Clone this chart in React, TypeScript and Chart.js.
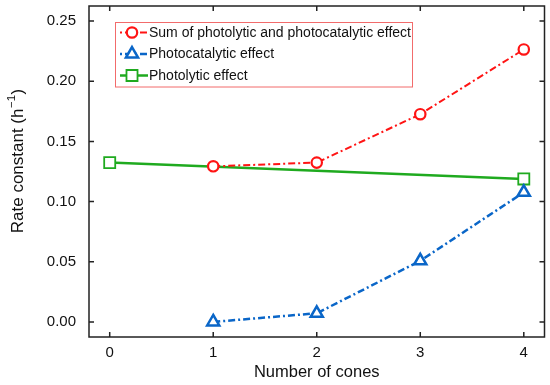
import React, { useEffect, useRef } from "react";
import { Chart, registerables } from "chart.js";

Chart.register(...registerables);

// ---- data ----
const xTickValues = [0, 1, 2, 3, 4];
const yTickValues = [0, 0.05, 0.1, 0.15, 0.2, 0.25];

const sumX = [1, 2, 3, 4];
const sumY = [0.1293, 0.1324, 0.1726, 0.2264];

const photocatalyticX = [1, 2, 3, 4];
const photocatalyticY = [0.0, 0.0072, 0.0508, 0.1077];

const photolyticX = [0, 4];
const photolyticY = [0.1324, 0.1188];

const seriesLabels = [
  "Sum of photolytic and photocatalytic effect",
  "Photocatalytic effect",
  "Photolytic effect",
];

const xTitle = "Number of cones";
const yTitleMain = "Rate constant (h";
const yTitleSup = "\u22121";
const yTitleEnd = ")";

const FONT = "'Liberation Sans', Arial, Helvetica, sans-serif";

const toPoints = (xs: number[], ys: number[]) => xs.map((x, i) => ({ x, y: ys[i] }));

function drawMarker(ctx: CanvasRenderingContext2D, style: string, x: number, y: number, r: number) {
  ctx.beginPath();
  if (style === "circle") {
    ctx.arc(x, y, r, 0, Math.PI * 2);
  } else if (style === "triangle") {
    let rad = 0;
    ctx.moveTo(x + Math.sin(rad) * r, y - Math.cos(rad) * r);
    rad += (2 * Math.PI) / 3;
    ctx.lineTo(x + Math.sin(rad) * r, y - Math.cos(rad) * r);
    rad += (2 * Math.PI) / 3;
    ctx.lineTo(x + Math.sin(rad) * r, y - Math.cos(rad) * r);
    ctx.closePath();
  } else {
    const s = Math.SQRT1_2 * r;
    ctx.rect(x - s, y - s, 2 * s, 2 * s);
  }
  ctx.fill();
  ctx.stroke();
}

const framePlugin = {
  id: "frameTicks",
  afterDatasetsDraw(chart: any) {
    const { ctx, chartArea: a, scales } = chart;
    ctx.save();
    ctx.strokeStyle = "#222";
    ctx.lineWidth = 1.5;
    ctx.strokeRect(a.left, a.top, a.right - a.left, a.bottom - a.top);
    const L = 5;
    ctx.beginPath();
    for (const v of xTickValues) {
      const px = scales.x.getPixelForValue(v);
      ctx.moveTo(px, a.bottom);
      ctx.lineTo(px, a.bottom - L);
      ctx.moveTo(px, a.top);
      ctx.lineTo(px, a.top + L);
    }
    for (const v of yTickValues) {
      const py = scales.y.getPixelForValue(v);
      ctx.moveTo(a.left, py);
      ctx.lineTo(a.left + L, py);
      ctx.moveTo(a.right, py);
      ctx.lineTo(a.right - L, py);
    }
    ctx.stroke();

    // y axis title with superscript
    const cy = 161;
    const cx = 18;
    ctx.translate(cx, cy);
    ctx.rotate(-Math.PI / 2);
    ctx.fillStyle = "#111";
    ctx.textBaseline = "middle";
    ctx.textAlign = "left";
    const mainFont = `17px ${FONT}`;
    const supFont = `11.5px ${FONT}`;
    ctx.font = mainFont;
    const w1 = ctx.measureText(yTitleMain).width;
    const w3 = ctx.measureText(yTitleEnd).width;
    ctx.font = supFont;
    const w2 = ctx.measureText(yTitleSup).width;
    const total = w1 + w2 + w3 + 1;
    let x0 = -total / 2;
    ctx.font = mainFont;
    ctx.fillText(yTitleMain, x0, 0);
    x0 += w1 + 0.5;
    ctx.font = supFont;
    ctx.fillText(yTitleSup, x0, -6.5);
    x0 += w2 + 0.5;
    ctx.font = mainFont;
    ctx.fillText(yTitleEnd, x0, 0);
    ctx.restore();
  },
};

const legendPlugin = {
  id: "boxLegend",
  afterDraw(chart: any) {
    const { ctx, chartArea: a } = chart;
    const ds = chart.data.datasets;
    ctx.save();
    ctx.font = `14px ${FONT}`;
    let maxW = 0;
    ds.forEach((d: any) => {
      maxW = Math.max(maxW, ctx.measureText(d.label).width);
    });
    const left = a.left + 26;
    const top = a.top + 16;
    const sampleLen = 28;
    const padL = 5;
    const textGap = 1;
    const rowH = 21.5;
    const width = padL + sampleLen + textGap + maxW + 1;
    const height = 10.5 + rowH * (ds.length - 1) + 11;
    ctx.fillStyle = "#fff";
    ctx.fillRect(left, top, width, height);
    ctx.strokeStyle = "#f26b6b";
    ctx.lineWidth = 1;
    ctx.strokeRect(left + 0.5, top + 0.5, width, height);

    ds.forEach((d: any, i: number) => {
      const y = top + 10.5 + i * rowH;
      const x1 = left + padL;
      const x2 = x1 + sampleLen;
      ctx.save();
      ctx.strokeStyle = d.borderColor;
      ctx.lineWidth = d.borderWidth;
      ctx.setLineDash(d.borderDash || []);
      ctx.lineDashOffset = 10;
      ctx.beginPath();
      ctx.moveTo(x1, y);
      ctx.lineTo(x2, y);
      ctx.stroke();
      ctx.setLineDash([]);
      ctx.strokeStyle = d.pointBorderColor;
      ctx.fillStyle = "#fff";
      ctx.lineWidth = d.pointBorderWidth;
      drawMarker(ctx, d.pointStyle, (x1 + x2) / 2 - 2, y, d.pointRadius);
      ctx.restore();
      ctx.fillStyle = "#111";
      ctx.textBaseline = "middle";
      ctx.textAlign = "left";
      ctx.fillText(d.label, x2 + textGap, y + 0.5);
    });
    ctx.restore();
  },
};

export default function App() {
  const canvasRef = useRef<HTMLCanvasElement | null>(null);

  useEffect(() => {
    if (!canvasRef.current) return;
    const red = "#ff1414";
    const blue = "#0a66c8";
    const green = "#1faa1f";
    const chart = new Chart(canvasRef.current, {
      type: "line",
      data: {
        datasets: [
          {
            label: seriesLabels[0],
            data: toPoints(sumX, sumY),
            borderColor: red,
            borderWidth: 2,
            borderDash: [7, 3, 2, 3],
            pointStyle: "circle",
            pointRadius: 5.2,
            pointBorderWidth: 2.2,
            pointBorderColor: red,
            pointBackgroundColor: "#fff",
            tension: 0,
          },
          {
            label: seriesLabels[1],
            data: toPoints(photocatalyticX, photocatalyticY),
            borderColor: blue,
            borderWidth: 2.5,
            borderDash: [7, 3, 2, 3],
            pointStyle: "triangle",
            pointRadius: 7,
            pointBorderWidth: 2.5,
            pointBorderColor: blue,
            pointBackgroundColor: "#fff",
            tension: 0,
          },
          {
            label: seriesLabels[2],
            data: toPoints(photolyticX, photolyticY),
            borderColor: green,
            borderWidth: 2.5,
            pointStyle: "rect",
            pointRadius: 7.8,
            pointBorderWidth: 1.8,
            pointBorderColor: green,
            pointBackgroundColor: "#fff",
            tension: 0,
          },
        ],
      },
      options: {
        animation: false,
        responsive: false,
        maintainAspectRatio: false,
        layout: { autoPadding: false, padding: { top: 6, right: 5.5, left: 0, bottom: 0 } },
        plugins: {
          legend: { display: false },
          tooltip: { enabled: false },
        },
        scales: {
          x: {
            type: "linear",
            min: -0.2,
            max: 4.2,
            afterBuildTicks: (scale: any) => {
              scale.ticks = xTickValues.map((v) => ({ value: v }));
            },
            afterFit: (scale: any) => {
              scale.height = 48;
              scale.paddingLeft = 0;
              scale.paddingRight = 0;
              scale.paddingTop = 0;
              scale.paddingBottom = 0;
            },
            grid: { display: false, drawTicks: false },
            border: { display: false },
            ticks: {
              padding: 7,
              color: "#111",
              font: { family: FONT, size: 15 },
              callback: (v: any) => String(v),
            },
            title: {
              display: true,
              text: xTitle,
              color: "#111",
              font: { family: FONT, size: 16.5 },
              padding: { top: 0, bottom: 3 },
            },
          },
          y: {
            type: "linear",
            min: -0.0125,
            max: 0.2625,
            afterBuildTicks: (scale: any) => {
              scale.ticks = yTickValues.map((v) => ({ value: v }));
            },
            afterFit: (scale: any) => {
              scale.width = 89;
              scale.paddingLeft = 0;
              scale.paddingRight = 0;
              scale.paddingTop = 0;
              scale.paddingBottom = 0;
            },
            grid: { display: false, drawTicks: false },
            border: { display: false },
            ticks: {
              padding: 13,
              color: "#111",
              font: { family: FONT, size: 15 },
              callback: (v: any) => Number(v).toFixed(2),
            },
          },
        },
      },
      plugins: [framePlugin, legendPlugin],
    });
    return () => chart.destroy();
  }, []);

  return (
    <div style={{ position: "fixed", left: 0, top: 0, width: 550, height: 385, background: "#fff" }}>
      <canvas ref={canvasRef} width={550} height={385} style={{ display: "block" }} />
    </div>
  );
}
